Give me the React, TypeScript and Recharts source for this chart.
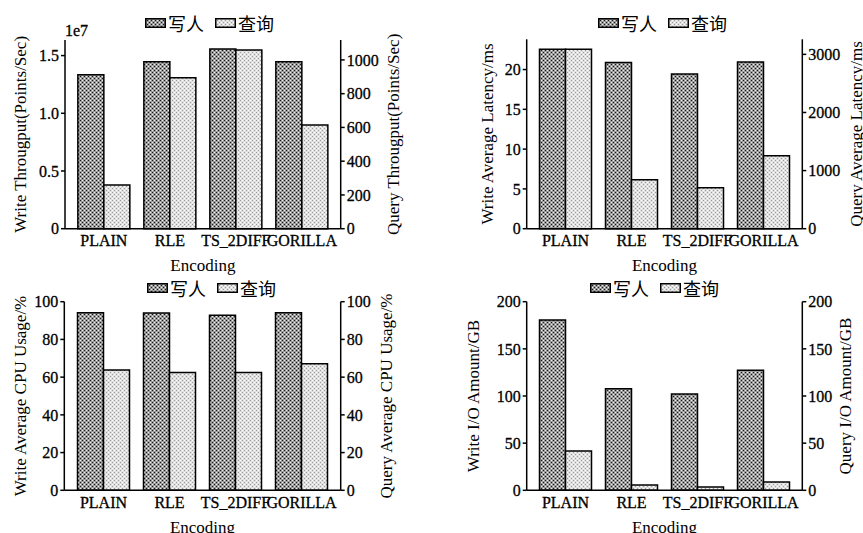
import React from "react";
import { BarChart, Bar, XAxis, YAxis, Legend, Label } from "recharts";

const CATEGORIES = ["PLAIN", "RLE", "TS_2DIFF", "GORILLA"];

// throughput (points/sec)
const WRITE_THROUGHPUT = [1.334e7, 1.447e7, 1.557e7, 1.447e7];
const QUERY_THROUGHPUT = [259, 895, 1059, 615];
// average latency (ms)
const WRITE_LATENCY = [22.56, 20.88, 19.45, 20.96];
const QUERY_LATENCY = [3087, 843, 706, 1256];
// average CPU usage (%)
const WRITE_CPU = [94.2, 94.0, 92.8, 94.2];
const QUERY_CPU = [63.8, 62.5, 62.5, 67.1];
// I/O amount (GB)
const WRITE_IO = [180.6, 107.8, 102.1, 127.2];
const QUERY_IO = [41.7, 5.6, 3.5, 8.8];

const THROUGHPUT_LEFT_TICKS = [0, 5e6, 1e7, 1.5e7];
const THROUGHPUT_RIGHT_TICKS = [0, 200, 400, 600, 800, 1000];
const LATENCY_LEFT_TICKS = [0, 5, 10, 15, 20];
const LATENCY_RIGHT_TICKS = [0, 1000, 2000, 3000];
const CPU_TICKS = [0, 20, 40, 60, 80, 100];
const IO_TICKS = [0, 50, 100, 150, 200];

const SERIES_NAMES = ["写人", "查询"];

const FONT = "'Liberation Serif', 'Times New Roman', serif";
const CJK = "'Noto Sans CJK SC', sans-serif";
const AX = 60;
const XH = 45;
const SPACING = 66;

// regular weight with a thin outline: the scanned labels look heavier than plain Times
const tickStyle = { fill: "#000", fontSize: 16, fontFamily: FONT, stroke: "#000", strokeWidth: 0.3 };
const lineStyle = { stroke: "#000", strokeWidth: 1.5 };
const titleStyle = { textAnchor: "middle" as const, fontFamily: FONT, fontSize: 17, fill: "#000" };

type PanelProps = {
  id: string;
  x0: number; y0: number; w: number; h: number;
  L: number; R: number; T: number; B: number;
  write: number[]; query: number[];
  leftDomain: [number, number]; rightDomain: [number, number];
  leftTicks: number[]; rightTicks: number[];
  leftTitle: string; rightTitle: string;
  leftTitleX: number; rightTitleX: number;
  legendX: number; legendY: number;
  leftFmt?: (v: number) => string;
  offsetText?: string;
};

function Swatch({ fill }: { fill: string }) {
  return (
    <svg width={21} height={10} style={{ display: "block" }}>
      <rect x={0.75} y={0.75} width={19.5} height={8.5} fill={fill} stroke="#000" strokeWidth={1.5} />
    </svg>
  );
}

function Panel(p: PanelProps) {
  const data = CATEGORIES.map((c, i) => ({ name: c, write: p.write[i], query: p.query[i] }));
  const margin = {
    top: p.T - p.y0,
    left: p.L - p.x0 - AX,
    right: p.x0 + p.w - p.R - AX,
    bottom: p.y0 + p.h - p.B - XH,
  };
  const pad = (p.R - p.L - SPACING * CATEGORIES.length) / 2;
  const wId = `w-${p.id}`;
  const qId = `q-${p.id}`;
  return (
    <div style={{ position: "absolute", left: p.x0, top: p.y0, width: p.w, height: p.h }}>
      <BarChart width={p.w} height={p.h} data={data} margin={margin} barGap={0} barSize={26}>
        <defs>
          <pattern id={wId} width={4} height={4} patternUnits="userSpaceOnUse">
            <rect width={4} height={4} fill="#9a9a9a" />
            <rect x={0} y={0} width={1} height={1} fill="#1a1a1a" />
            <rect x={2} y={2} width={1} height={1} fill="#1a1a1a" />
            <rect x={2} y={0} width={1} height={1} fill="#eeeeee" />
            <rect x={0} y={2} width={1} height={1} fill="#eeeeee" />
          </pattern>
          <pattern id={qId} width={4} height={4} patternUnits="userSpaceOnUse">
            <rect width={4} height={4} fill="#e0e0e0" />
            <rect x={0} y={0} width={1} height={1} fill="#9a9a9a" />
            <rect x={2} y={2} width={1} height={1} fill="#9a9a9a" />
            <rect x={2} y={0} width={1} height={1} fill="#ffffff" />
            <rect x={0} y={2} width={1} height={1} fill="#ffffff" />
          </pattern>
        </defs>
        <XAxis
          dataKey="name"
          height={XH}
          padding={{ left: pad, right: pad }}
          tick={tickStyle}
          tickLine={false}
          tickSize={4}
          axisLine={lineStyle}
          interval={0}
        >
          <Label value="Encoding" position="insideBottom" offset={2.5} style={titleStyle} />
        </XAxis>
        <YAxis
          yAxisId="left"
          orientation="left"
          width={AX}
          domain={p.leftDomain}
          ticks={p.leftTicks}
          tickFormatter={p.leftFmt}
          tick={tickStyle}
          tickLine={lineStyle}
          tickSize={4}
          axisLine={lineStyle}
          interval={0}
        >
          <Label
            value={p.leftTitle}
            angle={-90}
            position="insideLeft"
            offset={p.leftTitleX - (p.L - AX)}
            style={titleStyle}
          />
        </YAxis>
        <YAxis
          yAxisId="right"
          orientation="right"
          width={AX}
          domain={p.rightDomain}
          ticks={p.rightTicks}
          tick={tickStyle}
          tickLine={lineStyle}
          tickSize={4}
          axisLine={lineStyle}
          interval={0}
        >
          <Label
            value={p.rightTitle}
            angle={-90}
            position="insideRight"
            offset={p.R + AX - p.rightTitleX}
            style={titleStyle}
          />
        </YAxis>
        <Legend
          verticalAlign="middle"
          align="center"
          layout="horizontal"
          wrapperStyle={{ left: p.legendX - p.x0, top: p.legendY - p.y0 - 11, width: "auto" }}
          content={(props: any) => (
            <div style={{ display: "flex", alignItems: "center", height: 22, fontFamily: CJK, fontSize: 18, color: "#000", whiteSpace: "nowrap" }}>
              {(props.payload || []).map((e: any, i: number) => (
                <React.Fragment key={i}>
                  <span style={{ marginLeft: i === 0 ? 0 : 11 }}>
                    <Swatch fill={e.dataKey === "write" ? `url(#${wId})` : `url(#${qId})`} />
                  </span>
                  <span style={{ marginLeft: 2 }}>{e.value}</span>
                </React.Fragment>
              ))}
            </div>
          )}
        />
        <Bar yAxisId="left" dataKey="write" name={SERIES_NAMES[0]} fill={`url(#${wId})`} stroke="#000" strokeWidth={1.5} isAnimationActive={false} />
        <Bar yAxisId="right" dataKey="query" name={SERIES_NAMES[1]} fill={`url(#${qId})`} stroke="#000" strokeWidth={1.5} isAnimationActive={false} />
      </BarChart>
      {p.offsetText && (
        <div style={{ position: "absolute", left: p.L - p.x0, top: p.T - p.y0 - 18, fontFamily: FONT, fontSize: 16, color: "#000", WebkitTextStroke: "0.3px #000", lineHeight: "normal" }}>
          {p.offsetText}
        </div>
      )}
    </div>
  );
}

export default function App() {
  return (
    <div style={{ position: "absolute", left: 0, top: 0, width: 863, height: 533, overflow: "hidden", background: "#fff" }}>
      <Panel
        id="tp" x0={0} y0={0} w={431} h={277}
        L={65} R={340.7} T={40} B={228.7}
        write={WRITE_THROUGHPUT} query={QUERY_THROUGHPUT}
        leftDomain={[0, 1.635e7]} rightDomain={[0, 1118]}
        leftTicks={THROUGHPUT_LEFT_TICKS} rightTicks={THROUGHPUT_RIGHT_TICKS}
        leftFmt={(v) => (v === 0 ? "0" : (v / 1e7).toFixed(1))}
        leftTitle="Write Througput(Points/Sec)" rightTitle="Query Througput(Points/Sec)"
        leftTitleX={20} rightTitleX={393}
        legendX={145} legendY={22.5}
        offsetText="1e7"
      />
      <Panel
        id="lat" x0={431} y0={0} w={432} h={277}
        L={526.7} R={802.3} T={39.3} B={228.7}
        write={WRITE_LATENCY} query={QUERY_LATENCY}
        leftDomain={[0, 23.8]} rightDomain={[0, 3259]}
        leftTicks={LATENCY_LEFT_TICKS} rightTicks={LATENCY_RIGHT_TICKS}
        leftTitle="Write Average Latency/ms" rightTitle="Query Average Latency/ms"
        leftTitleX={487} rightTitleX={856}
        legendX={598} legendY={23.3}
      />
      <Panel
        id="cpu" x0={0} y0={266} w={431} h={273}
        L={64.3} R={340.7} T={301.7} B={490.3}
        write={WRITE_CPU} query={QUERY_CPU}
        leftDomain={[0, 100]} rightDomain={[0, 100]}
        leftTicks={CPU_TICKS} rightTicks={CPU_TICKS}
        leftTitle="Write Average CPU Usage/%" rightTitle="Query Average CPU Usage/%"
        leftTitleX={20} rightTitleX={386}
        legendX={147} legendY={288.3}
      />
      <Panel
        id="io" x0={431} y0={266} w={432} h={273}
        L={526.7} R={802.3} T={301.7} B={490.3}
        write={WRITE_IO} query={QUERY_IO}
        leftDomain={[0, 200]} rightDomain={[0, 200]}
        leftTicks={IO_TICKS} rightTicks={IO_TICKS}
        leftTitle="Write I/O Amount/GB" rightTitle="Query I/O Amount/GB"
        leftTitleX={473} rightTitleX={844.7}
        legendX={590} legendY={287.8}
      />
    </div>
  );
}
